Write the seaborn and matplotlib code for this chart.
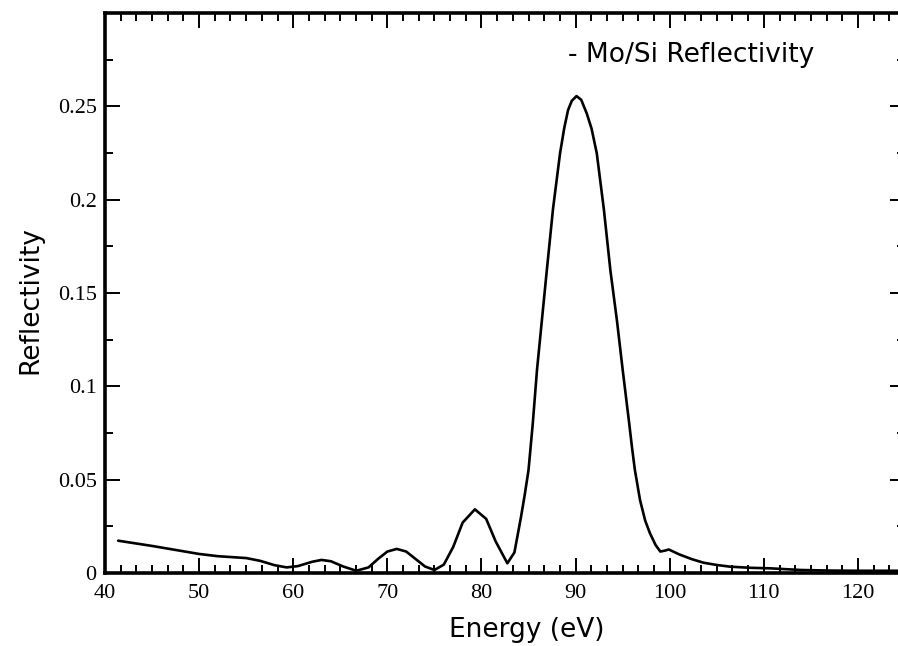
import numpy as np
import pandas as pd
import matplotlib
matplotlib.use("Agg")
import matplotlib.pyplot as plt
import seaborn as sns
from matplotlib.ticker import MultipleLocator, FixedLocator, FixedFormatter

# ---- data ----
energy = [41.4, 45, 50, 52, 55, 56.5, 58, 59.3, 60.5, 62, 63.0, 64, 65.3, 66.7,
          68, 69, 70, 71, 72, 73, 74, 75.0, 76, 77, 78, 79.3, 80.5, 81.5, 82.75,
          83.5, 84.2, 84.6, 85.0, 85.45, 85.9, 86.9, 87.6, 88.35, 88.8, 89.2,
          89.6, 90.1, 90.6, 91.2, 91.7, 92.25, 93.0, 93.7, 94.4, 95.0, 95.7,
          96.0, 96.3, 96.85, 97.4, 97.9, 98.5, 99.0, 99.5, 99.9, 101, 102.3,
          103.6, 105, 106.4, 108.5, 110.7, 112.5, 114, 117, 120, 125]
reflectivity = [0.0173, 0.0145, 0.0102, 0.0090, 0.0080, 0.0065, 0.0042, 0.0030,
                0.0037, 0.0060, 0.0070, 0.0063, 0.0035, 0.0012, 0.0030, 0.0075,
                0.0115, 0.0129, 0.0115, 0.0075, 0.0035, 0.0016, 0.0045, 0.0140,
                0.0270, 0.0341, 0.0290, 0.0170, 0.0052, 0.0110, 0.0300, 0.0420,
                0.0552, 0.0800, 0.1088, 0.1600, 0.1950, 0.2249, 0.2385, 0.2480,
                0.2530, 0.2555, 0.2535, 0.2460, 0.2380, 0.2249, 0.1950, 0.1620,
                0.1350, 0.1090, 0.0800, 0.0670, 0.0552, 0.0390, 0.0280, 0.0213,
                0.0150, 0.0115, 0.0120, 0.0126, 0.0100, 0.0075, 0.0055, 0.0043,
                0.0034, 0.0028, 0.0025, 0.0020, 0.0016, 0.0013, 0.0012, 0.0012]
y_ticks = [0, 0.05, 0.1, 0.15, 0.2, 0.25]
y_ticklabels = ["0", "0.05", "0.1", "0.15", "0.2", "0.25"]
x_ticks = [40, 50, 60, 70, 80, 90, 100, 110, 120]
x_ticklabels = ["40", "50", "60", "70", "80", "90", "100", "110", "120"]
series_label = "Mo/Si Reflectivity"

df = pd.DataFrame({"Energy": energy, "Reflectivity": reflectivity})

sns.set_style("ticks")
plt.rcParams["font.family"] = ["DejaVu Sans"]

W, H = 898, 646
fig = plt.figure(figsize=(W / 100, H / 100), dpi=100)
ax = fig.add_axes([105 / W, 73 / H, 800 / W, 560 / H])

sns.lineplot(data=df, x="Energy", y="Reflectivity", ax=ax, color="black",
             linewidth=1.9, sort=False)

ax.set_xlim(40, 125)
ax.set_ylim(0, 0.3)
ax.set_xlabel("")
ax.set_ylabel("")

ax.xaxis.set_major_locator(FixedLocator(x_ticks))
ax.xaxis.set_major_formatter(FixedFormatter(x_ticklabels))
ax.xaxis.set_minor_locator(MultipleLocator(10 / 6))
ax.yaxis.set_major_locator(FixedLocator(y_ticks))
ax.yaxis.set_major_formatter(FixedFormatter(y_ticklabels))
ax.yaxis.set_minor_locator(MultipleLocator(0.025))

ax.tick_params(which="both", direction="in", top=True, right=True,
               color="black", width=1.4)
ax.tick_params(which="major", length=11)
ax.tick_params(which="minor", length=6)
ax.tick_params(axis="x", pad=8)
ax.tick_params(axis="y", pad=6)
for lab in ax.get_xticklabels() + ax.get_yticklabels():
    lab.set_fontfamily(["Liberation Serif"])
    lab.set_fontsize(16)
    lab.set_color("black")

for side in ["left", "top", "bottom"]:
    ax.spines[side].set_linewidth(2.6)
    ax.spines[side].set_color("black")
ax.spines["right"].set_visible(False)

fig.text(568 / W, 1 - 55 / H, "- " + series_label,
         fontsize=19, color="black", va="center", ha="left")

fig.text(527 / W, 1 - 630 / H, "Energy (eV)", fontsize=19, ha="center",
         va="center", color="black")
fig.text(30 / W, 1 - 300 / H, "Reflectivity", fontsize=19, ha="center",
         va="center", rotation=90, color="black")

fig.savefig("out.png", dpi=100)
